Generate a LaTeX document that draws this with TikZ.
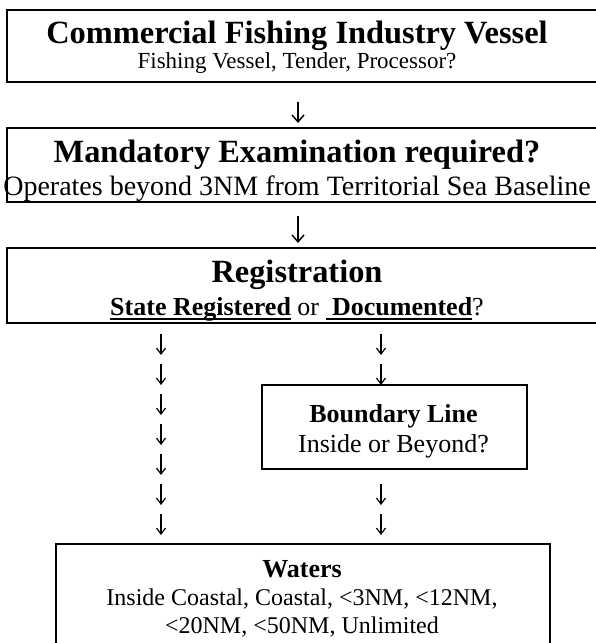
\documentclass[tikz,border=0pt]{standalone}
\usepackage{fontspec}
\setmainfont{Liberation Serif}
\usetikzlibrary{positioning,calc,arrows.meta}
\tikzstyle{frame}=[rectangle, draw=black, line width=2pt, inner sep=0pt,
                   anchor=north west]
\tikzstyle{ttl}=[anchor=base, inner sep=0pt, font=\fontsize{32.4}{36}\selectfont\bfseries]
\tikzstyle{sub}=[anchor=base, inner sep=0pt]
\tikzstyle{bigarr}=[-{Straight Barb[length=7pt,width=12pt]}, line width=1.4pt]
\tikzstyle{smlarr}=[-{Straight Barb[length=6pt,width=9pt]}, line width=1.2pt]
\newcommand{\ulbf}[1]{\setbox0\hbox{\bfseries #1}\rlap{\rule[-4.5pt]{\wd0}{1.8pt}}\box0\relax}

\begin{document}
\begin{tikzpicture}[x=1pt,y=-1pt]
\useasboundingbox (0,0) rectangle (596,643);

% boxes
\node (CFIV) [frame, minimum width=640pt, minimum height=72pt] at (6,9) {};
\node (MEXR) [frame, minimum width=640pt, minimum height=74pt] at (6,127) {};
\node (REG) [frame, minimum width=640pt, minimum height=75pt] at (6,247) {};
\node (BNDL) [frame, minimum width=265pt, minimum height=84pt] at (261,384) {};
\node (WTRS) [frame, minimum width=494pt, minimum height=140pt] at (55,543) {};

% texts
\node (CFIVt) [ttl] at (297,43) {Commercial Fishing Industry Vessel};
\node (CFIVs) [sub, font=\fontsize{23}{26}\selectfont] at (297,68) {Fishing Vessel, Tender, Processor?};
\node (MEXRt) [ttl] at (297,162) {Mandatory Examination required?};
\node (MEXRs) [sub, font=\fontsize{28}{32}\selectfont] at (297,195) {Operates beyond 3NM from Territorial Sea Baseline};
\node (REGt) [ttl] at (297,282) {Registration};
\node (REGs) [sub, font=\fontsize{26}{30}\selectfont] at (297,315)
  {\ulbf{State Registered} or \ulbf{\ Documented}?};
\node (BNDLt) [sub, font=\fontsize{26}{30}\selectfont\bfseries] at (393.5,422) {Boundary Line};
\node (BNDLs) [sub, font=\fontsize{26}{30}\selectfont] at (393.5,452) {Inside or Beyond?};
\node (WTRSt) [sub, font=\fontsize{26}{30}\selectfont\bfseries] at (302,577) {Waters};
\node (WTRSs) [sub, font=\fontsize{24}{28}\selectfont] at (302,605) {Inside Coastal, Coastal, <3NM, <12NM,};
\node (WTRSu) [sub, font=\fontsize{24}{28}\selectfont] at (302,633) {<20NM, <50NM, Unlimited};

% arrows
\draw[bigarr] ($(CFIV.south west)+(292,19)$) -- ($(MEXR.north west)+(292,-4)$);
\draw[bigarr] ($(MEXR.south west)+(292,13)$) -- ($(REG.north west)+(292,-4)$);
\foreach \k in {0,...,6}
  \draw[smlarr] ($(REG.south west)+(155,10+30*\k)$) -- ++(0,21);
\foreach \k in {0,1}
  \draw[smlarr] ($(REG.south west)+(375,10+30*\k)$) -- ++(0,21);
\foreach \k in {5,6}
  \draw[smlarr] ($(REG.south west)+(375,10+30*\k)$) -- ++(0,21);

\end{tikzpicture}
\end{document}
